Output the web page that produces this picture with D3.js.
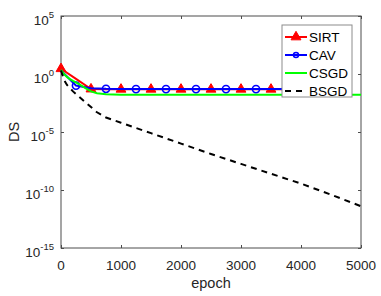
<!DOCTYPE html>
<html>
<head>
<meta charset="utf-8">
<script src="https://cdn.jsdelivr.net/npm/d3@7"></script>
<style>
  body { margin: 0; background: #fff; }
  text { font-family: "Liberation Sans", Arial, sans-serif; fill: #262626; }
</style>
</head>
<body>
<div id="chart"></div>
<script>
// values, stored as log10(DS)
const sirtEpoch = [0, 250, 500, 750, 1000, 1250, 1500, 1750, 2000, 2250, 2500, 2750, 3000, 3250, 3500, 3750, 4000];
const sirtLog = [0.45, -0.42, -1.3, -1.32, -1.32, -1.32, -1.32, -1.32, -1.32, -1.32, -1.32, -1.32, -1.32, -1.32, -1.32, -1.32, -1.32];

const cavEpoch = [0, 250, 500, 750, 1000, 1250, 1500, 1750, 2000, 2250, 2500, 2750, 3000, 3250, 3500, 3750, 4000];
const cavLog = [0.3, -1.0, -1.22, -1.28, -1.3, -1.3, -1.3, -1.3, -1.3, -1.3, -1.3, -1.3, -1.3, -1.3, -1.3, -1.3, -1.3];

const csgdEpoch = [0, 50, 100, 150, 200, 300, 400, 500, 600, 750, 1000, 2000, 3000, 4000, 5000];
const csgdLog = [0.35, 0.0, -0.25, -0.45, -0.6, -0.88, -1.2, -1.5, -1.66, -1.75, -1.78, -1.78, -1.78, -1.78, -1.78];

const bsgdEpoch = [0, 50, 100, 200, 300, 400, 500, 600, 750, 1000, 1500, 2000, 2500, 3000, 3500, 4000, 4500, 5000];
const bsgdLog = [0.3, -0.5, -0.95, -1.5, -1.95, -2.4, -2.85, -3.3, -3.75, -4.2, -5.1, -6.0, -6.9, -7.75, -8.6, -9.45, -10.4, -11.4];

const xTicks = [0, 1000, 2000, 3000, 4000, 5000];
const yTickExp = [5, 0, -5, -10, -15];
const legendNames = ["SIRT", "CAV", "CSGD", "BSGD"];

const width = 381, height = 296;
const pL = 61, pR = 361, pT = 16, pB = 248;

const svg = d3.select("#chart").append("svg")
  .attr("width", width).attr("height", height);

const x = d3.scaleLinear().domain([0, 5000]).range([pL, pR]);
const y = d3.scaleLog().domain([1e-15, 1e5]).range([pB, pT]);

// axes box
const axisColor = "#4d4d4d";
svg.append("rect")
  .attr("x", pL).attr("y", pT)
  .attr("width", pR - pL).attr("height", pB - pT)
  .attr("fill", "none").attr("stroke", axisColor).attr("stroke-width", 1);

const yTickVals = yTickExp.map(e => Math.pow(10, e));

function styleAxis(g) {
  g.select(".domain").remove();
  g.selectAll(".tick line").attr("stroke", axisColor);
}

svg.append("g").attr("transform", `translate(0,${pB})`)
  .call(d3.axisBottom(x).tickValues(xTicks).tickSize(-3).tickFormat(""))
  .call(styleAxis);
svg.append("g").attr("transform", `translate(0,${pT})`)
  .call(d3.axisTop(x).tickValues(xTicks).tickSize(-3).tickFormat(""))
  .call(styleAxis);
svg.append("g").attr("transform", `translate(${pL},0)`)
  .call(d3.axisLeft(y).tickValues(yTickVals).tickSize(-3).tickFormat(""))
  .call(styleAxis);
svg.append("g").attr("transform", `translate(${pR},0)`)
  .call(d3.axisRight(y).tickValues(yTickVals).tickSize(-3).tickFormat(""))
  .call(styleAxis);

// x tick labels
svg.selectAll(".xlab").data(xTicks).enter().append("text")
  .attr("x", d => x(d)).attr("y", pB + 22)
  .attr("text-anchor", "middle")
  .style("font-size", "13.5px")
  .text(d => d);

// y tick labels: 10 with superscript exponent
yTickExp.forEach(e => {
  const t = svg.append("text")
    .attr("x", pL - 7).attr("y", y(Math.pow(10, e)) + 9)
    .attr("text-anchor", "end")
    .style("font-size", "13.5px");
  t.append("tspan").text("10");
  t.append("tspan").attr("dy", -7).style("font-size", "9.5px").text(e);
});

svg.append("text")
  .attr("x", (pL + pR) / 2).attr("y", 288)
  .attr("text-anchor", "middle")
  .style("font-size", "14.5px")
  .text("epoch");

svg.append("text")
  .attr("transform", `translate(19,${(pT + pB) / 2}) rotate(-90)`)
  .attr("text-anchor", "middle")
  .style("font-size", "14.5px")
  .text("DS");

const plot = svg.append("g");

function drawLine(ep, lg, color, dash) {
  const pts = ep.map((e, i) => [e, Math.pow(10, lg[i])]);
  plot.append("path")
    .datum(pts)
    .attr("fill", "none")
    .attr("stroke", color)
    .attr("stroke-width", 2)
    .attr("stroke-dasharray", dash || null)
    .attr("d", d3.line().x(d => x(d[0])).y(d => y(d[1])));
  return pts;
}

const tri = d3.symbol().type(d3.symbolTriangle).size(42);

const sirtPts = drawLine(sirtEpoch, sirtLog, "#ff0000");
plot.selectAll(".sirt").data(sirtPts.filter(d => d[0] % 500 === 0)).enter()
  .append("path")
  .attr("d", tri)
  .attr("transform", d => `translate(${x(d[0])},${y(d[1])})`)
  .attr("fill", "#ff0000").attr("stroke", "#ff0000").attr("stroke-width", 1);

const cavPts = drawLine(cavEpoch, cavLog, "#0000ff");
plot.selectAll(".cav").data(cavPts.filter(d => d[0] % 500 === 250)).enter()
  .append("circle")
  .attr("cx", d => x(d[0])).attr("cy", d => y(d[1])).attr("r", 3.6)
  .attr("fill", "none").attr("stroke", "#0000ff").attr("stroke-width", 1.6);

drawLine(csgdEpoch, csgdLog, "#00ff00");
drawLine(bsgdEpoch, bsgdLog, "#000000", "6,5");

// legend
const lx = 282, ly = 25, lw = 70, lh = 72;
const lg = svg.append("g");
lg.append("rect").attr("x", lx).attr("y", ly).attr("width", lw).attr("height", lh)
  .attr("fill", "#fff").attr("stroke", "#8c8c8c").attr("stroke-width", 1);

const legendY = d3.scalePoint().domain(legendNames).range([ly + 12, ly + 66]);
const legendColor = d3.scaleOrdinal().domain(legendNames)
  .range(["#ff0000", "#0000ff", "#00ff00", "#000000"]);

legendNames.forEach(name => {
  const yy = legendY(name);
  lg.append("line")
    .attr("x1", lx + 3).attr("x2", lx + 25).attr("y1", yy).attr("y2", yy)
    .attr("stroke", legendColor(name)).attr("stroke-width", 2)
    .attr("stroke-dasharray", name === "BSGD" ? "6,5" : null);
  if (name === "SIRT") {
    lg.append("path").attr("d", tri)
      .attr("transform", `translate(${lx + 14},${yy})`)
      .attr("fill", "#ff0000").attr("stroke", "#ff0000");
  }
  if (name === "CAV") {
    lg.append("circle").attr("cx", lx + 14).attr("cy", yy).attr("r", 2.5)
      .attr("fill", "none").attr("stroke", "#0000ff").attr("stroke-width", 1.5);
  }
  lg.append("text")
    .attr("x", lx + 27).attr("y", yy + 5)
    .style("font-size", "13.5px")
    .style("fill", "#000")
    .text(name);
});
</script>
</body>
</html>
